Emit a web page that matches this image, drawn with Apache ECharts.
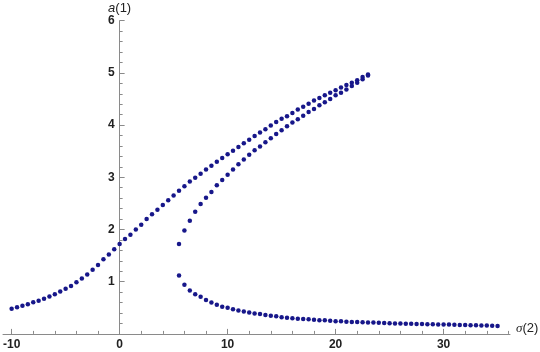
<!DOCTYPE html>
<html>
<head>
<meta charset="utf-8">
<script src="https://cdn.jsdelivr.net/npm/echarts@6/dist/echarts.min.js"></script>
<style>
html,body{margin:0;padding:0;background:#fff;}
#chart{width:540px;height:352px;}
</style>
</head>
<body>
<div id="chart"></div>
<script>
// Upper (stable, resonant) branch
var sigmaUpper = [-10,-9.5,-9,-8.5,-8,-7.5,-7,-6.5,-6,-5.5,-5,-4.5,-4,-3.5,-3,-2.5,-2,-1.5,-1,-0.5,
  0,0.5,1,1.5,2,2.5,3,3.5,4,4.5,5,5.5,6,6.5,7,7.5,8,8.5,9,9.5,
  10,10.5,11,11.5,12,12.5,13,13.5,14,14.5,15,15.5,16,16.5,17,17.5,18,18.5,19,19.5,
  20,20.5,21,21.5,22,22.5,23];
var aUpper = [0.48,0.51,0.54,0.57,0.605,0.635,0.675,0.715,0.76,0.81,0.865,0.92,0.99,1.06,1.14,1.23,1.32,1.43,1.52,1.62,
  1.72,1.82,1.90,2.00,2.09,2.20,2.29,2.38,2.47,2.56,2.65,2.74,2.83,2.92,2.99,3.07,3.15,3.22,3.30,3.37,
  3.44,3.51,3.58,3.65,3.72,3.79,3.86,3.92,3.99,4.06,4.12,4.17,4.23,4.30,4.35,4.41,4.47,4.52,4.57,4.62,
  4.67,4.72,4.77,4.81,4.86,4.92,4.97];

// Middle (unstable) branch
var sigmaMiddle = [5.5,6,6.5,7,7.5,8,8.5,9,9.5,10,10.5,11,11.5,12,12.5,13,13.5,14,14.5,
  15,15.5,16,16.5,17,17.5,18,18.5,19,19.5,20,20.5,21,21.5,22,22.5,23];
var aMiddle = [1.72,1.98,2.17,2.34,2.49,2.61,2.72,2.85,2.95,3.05,3.15,3.25,3.34,3.43,3.52,3.59,3.67,3.75,3.83,
  3.90,3.98,4.05,4.11,4.18,4.25,4.31,4.38,4.44,4.50,4.57,4.62,4.68,4.75,4.81,4.88,4.95];

// Lower (stable, non-resonant) branch
var sigmaLower = [5.5,6,6.5,7,7.5,8,8.5,9,9.5,10,10.5,11,11.5,12,12.5,13,13.5,14,14.5,
  15,15.5,16,16.5,17,17.5,18,18.5,19,19.5,20,20.5,21,21.5,22,22.5,23,23.5,24,24.5,
  25,25.5,26,26.5,27,27.5,28,28.5,29,29.5,30,30.5,31,31.5,32,32.5,33,33.5,34,34.5,35];
var aLower = [1.12,0.94,0.83,0.76,0.71,0.65,0.60,0.56,0.52,0.50,0.47,0.45,0.43,0.41,0.39,0.38,0.36,0.35,0.34,
  0.32,0.31,0.30,0.29,0.285,0.28,0.27,0.26,0.26,0.25,0.24,0.24,0.235,0.23,0.23,0.225,0.22,0.22,0.215,0.21,
  0.205,0.20,0.20,0.195,0.195,0.19,0.19,0.185,0.185,0.18,0.18,0.178,0.175,0.172,0.17,0.168,0.165,0.163,0.16,0.155,0.15];

// Tick labels
var xMajorTicks = [-10,0,10,20,30];
var xMinorTicks = [-10,-8,-6,-4,-2,0,2,4,6,8,10,12,14,16,18,20,22,24,26,28,30,32,34,36];
var yTickLabels = ['1','2','3','4','5','6'];

function zip(xs, ys){ var out=[]; for(var i=0;i<xs.length;i++){ out.push([xs[i], ys[i]]); } return out; }

var X_MIN = -10.8, X_MAX = 36.15;
var GRID_LEFT = 3, GRID_RIGHT = 30;
var plotW = 540 - GRID_LEFT - GRID_RIGHT;
var yAxisOffset = -(0 - X_MIN) / (X_MAX - X_MIN) * plotW;

var axisGray = '#8a8a8a';
var labelFont = {color:'#222', fontSize:12, fontWeight:'bold', fontFamily:'Liberation Sans, Arial, sans-serif'};
var dotColor = '#17178a';

var chart = echarts.init(document.getElementById('chart'), null, {renderer:'canvas'});
chart.setOption({
  animation:false,
  backgroundColor:'#ffffff',
  grid:{left:GRID_LEFT, right:GRID_RIGHT, top:20.7, bottom:18.1, containLabel:false, outerBoundsMode:'none'},
  xAxis:[{
    type:'value', min:X_MIN, max:X_MAX, position:'bottom',
    axisLine:{show:true, onZero:false, lineStyle:{color:axisGray, width:1}},
    axisTick:{show:true, inside:true, length:3, customValues:xMinorTicks, lineStyle:{color:axisGray}},
    axisLabel:{show:true, customValues:xMajorTicks, margin:5, color:labelFont.color, fontSize:labelFont.fontSize,
      fontWeight:labelFont.fontWeight, fontFamily:labelFont.fontFamily},
    splitLine:{show:false},
    name:'{i|σ}(2)', nameLocation:'end', nameGap:6,
    nameTextStyle:{color:'#222', fontSize:13, fontFamily:'Liberation Sans, Arial, sans-serif', padding:[0,0,10,0],
      rich:{i:{fontStyle:'italic', fontSize:13, color:'#222', fontFamily:'Liberation Serif, serif'}}}
  },{
    type:'value', min:X_MIN, max:X_MAX, position:'bottom',
    axisLine:{show:false, onZero:false},
    axisTick:{show:true, inside:true, length:5, customValues:xMajorTicks, lineStyle:{color:axisGray}},
    axisLabel:{show:false},
    splitLine:{show:false}
  }],
  yAxis:{
    type:'value', min:0, max:6, interval:1, position:'left', offset:yAxisOffset,
    axisLine:{show:true, onZero:false, lineStyle:{color:axisGray, width:1}},
    axisTick:{show:true, inside:true, length:5, lineStyle:{color:axisGray}},
    minorTick:{show:true, splitNumber:5, length:3, lineStyle:{color:axisGray}},
    axisLabel:{show:true, margin:5, showMinLabel:false, color:labelFont.color, fontSize:labelFont.fontSize,
      fontWeight:labelFont.fontWeight, fontFamily:labelFont.fontFamily,
      formatter:function(v){ var i = Math.round(v)-1; return (i>=0 && i<yTickLabels.length) ? yTickLabels[i] : ''; }},
    splitLine:{show:false},
    name:'{i|a}(1)', nameLocation:'end', nameGap:4,
    nameTextStyle:{color:'#222', fontSize:13, fontFamily:'Liberation Sans, Arial, sans-serif',
      rich:{i:{fontStyle:'italic', fontSize:13, color:'#222', fontFamily:'Liberation Sans, Arial, sans-serif'}}}
  },
  series:[
    {type:'scatter', xAxisIndex:0, data:zip(sigmaUpper, aUpper), symbol:'circle', symbolSize:4.5, itemStyle:{color:dotColor, opacity:1}},
    {type:'scatter', xAxisIndex:0, data:zip(sigmaMiddle, aMiddle), symbol:'circle', symbolSize:4.5, itemStyle:{color:dotColor, opacity:1}},
    {type:'scatter', xAxisIndex:0, data:zip(sigmaLower, aLower), symbol:'circle', symbolSize:4.5, itemStyle:{color:dotColor, opacity:1}}
  ]
});
</script>
</body>
</html>
